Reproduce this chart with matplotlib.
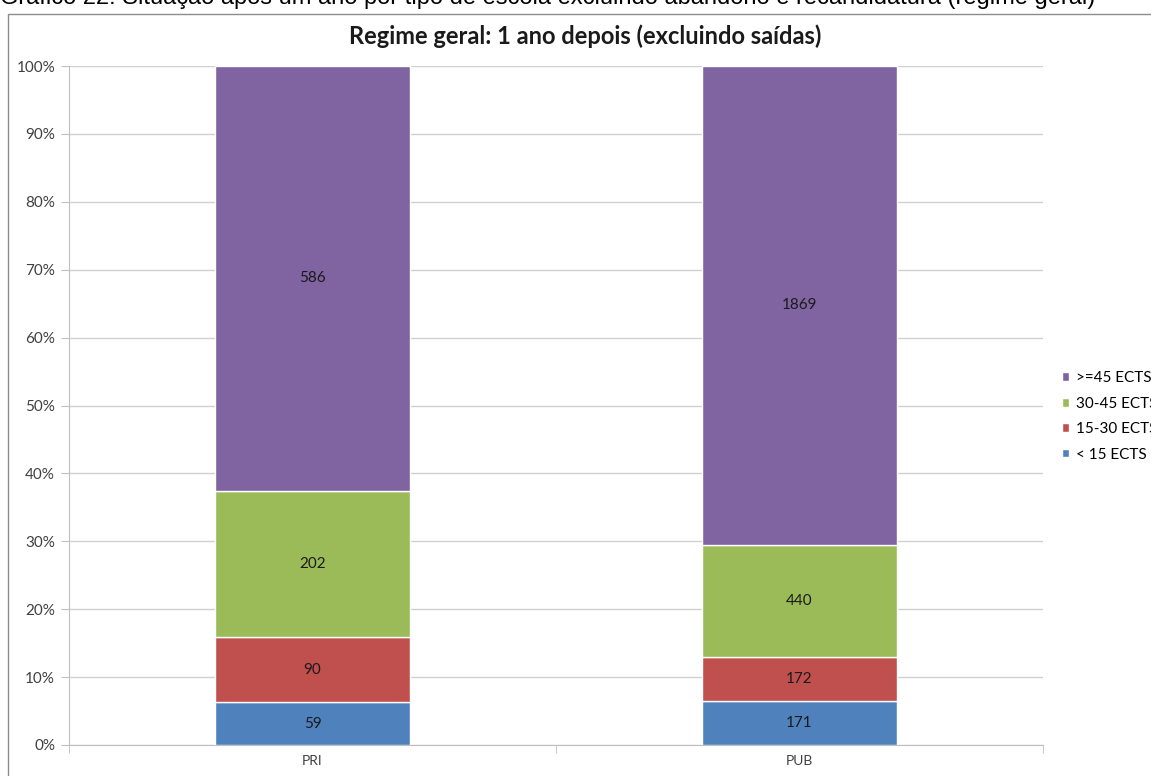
import matplotlib
matplotlib.use('Agg')
import matplotlib.pyplot as plt
from matplotlib.patches import Rectangle
import numpy as np

# dados
categorias = ['PRI', 'PUB']
series = ['< 15 ECTS', '15-30 ECTS', '30-45 ECTS', '>=45 ECTS']
menos_15 = [59, 171]
de_15_30 = [90, 172]
de_30_45 = [202, 440]
mais_45 = [586, 1869]
cores = ['#4F81BD', '#C0504D', '#9BBB59', '#8064A2']

plt.rcParams['font.family'] = ['Lato', 'DejaVu Sans']

valores = np.array([menos_15, de_15_30, de_30_45, mais_45], dtype=float)
totais = valores.sum(axis=0)
perc = valores / totais

fig = plt.figure(figsize=(11.51, 7.76), dpi=100)

# legenda da figura (cortada no topo, como no original)
fig.text(0.0, 1.003, 'Gráfico 22: Situação após um ano por tipo de escola excluindo abandono e recandidatura (regime geral)',
         fontsize=17, family='Liberation Sans', ha='left', va='center')

# moldura do gráfico
fig.patches.append(Rectangle((8 / 1151, -0.05), 1.2, 1 - 14 / 776 + 0.05,
                             transform=fig.transFigure, fill=False,
                             edgecolor='#8c8c8c', lw=1.0))

fig.text(585 / 1151, 1 - 36 / 776, 'Regime geral: 1 ano depois (excluindo saídas)',
         fontsize=17, fontweight='bold', ha='center', va='center', color='#1a1a1a')

ax = fig.add_axes([69 / 1151, 1 - 745 / 776, (1043 - 69) / 1151, (745 - 66) / 776])
x = np.arange(len(categorias))
base = np.zeros(len(categorias))
handles = []
for i, nome in enumerate(series):
    b = ax.bar(x, perc[i], 0.4, bottom=base, color=cores[i], edgecolor='white',
               linewidth=1.0, label=nome, zorder=3)
    handles.append(b)
    for j in range(len(categorias)):
        ax.text(x[j], base[j] + perc[i][j] / 2, f'{int(valores[i][j])}',
                ha='center', va='center', fontsize=11, color='#1a1a1a', zorder=4)
    base += perc[i]

ax.set_xlim(-0.5, 1.5)
ax.set_ylim(0, 1)
ax.set_yticks(np.arange(0, 1.01, 0.1))
ax.set_yticklabels([f'{int(round(v * 100))}%' for v in np.arange(0, 1.01, 0.1)])
ax.set_xticks(x)
ax.set_xticklabels(categorias)
ax.set_xticks([-0.5, 0.5, 1.5], minor=True)
ax.tick_params(axis='x', which='major', length=0, pad=7, labelsize=10, colors='#404040')
ax.tick_params(axis='x', which='minor', length=6, color='#bfbfbf', direction='out')
ax.tick_params(axis='y', length=6, color='#bfbfbf', labelsize=11, colors='#404040', pad=4)
ax.grid(axis='y', color='#d0d0d0', lw=1.0, zorder=0)
for s in ['top', 'right']:
    ax.spines[s].set_visible(False)
ax.spines['left'].set_color('#bfbfbf')
ax.spines['bottom'].set_color('#bfbfbf')

leg = ax.legend(handles[::-1], series[::-1], loc='center left', bbox_to_anchor=(1.013, 0.484),
                frameon=False, fontsize=11, handlelength=0.5, handleheight=0.5,
                handletextpad=0.45, labelspacing=0.75, borderaxespad=0)

fig.savefig('out.png', dpi=100)
